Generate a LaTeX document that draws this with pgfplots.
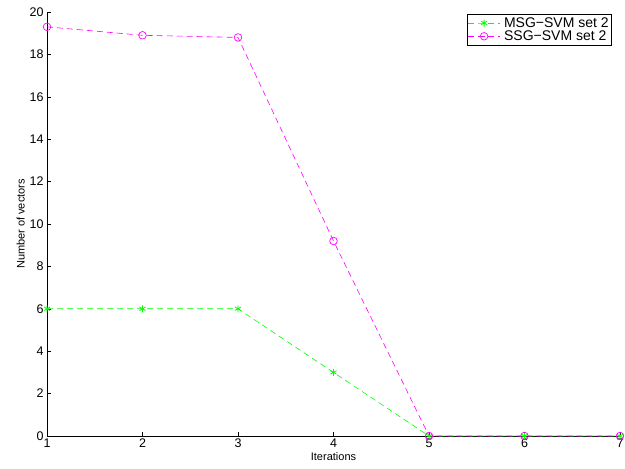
\documentclass[border=0pt]{standalone}
\usepackage{fontspec}
\setmainfont{Liberation Sans}
\usepackage{pgfplots}
\pgfplotsset{compat=1.18}
\usetikzlibrary{calc}

\definecolor{mgreen}{rgb}{0,1,0}
\definecolor{mmagenta}{rgb}{1,0,1}

\begin{document}
\begin{tikzpicture}
\begin{axis}[
    width=573pt, height=424pt,
    scale only axis,
    xmin=1, xmax=7, ymin=0, ymax=20,
    xtick={1,...,7},
    ytick={0,2,...,20},
    axis x line*=bottom,
    axis y line*=left,
    tick align=inside,
    major tick length=4pt,
    tick style={black, line width=0.5pt},
    axis line style={line width=0.7pt},
    /pgf/number format/assume math mode=true,
    ticklabel style={font=\fontsize{12.5}{14}\selectfont},
    xticklabel style={yshift=1pt},
    label style={font=\fontsize{11}{13}\selectfont},
    xlabel={Iterations},
    ylabel={Number of vectors},
    xlabel style={yshift=2pt},
    ylabel style={yshift=-2pt},
    legend style={at={(0.986,0.995)}, anchor=north east,
        font=\fontsize{14}{16}\selectfont, draw=black, line width=0.5pt,
        inner sep=1pt, row sep=-2pt,
        /tikz/every odd column/.append style={column sep=2pt}},
    legend cell align=left,
    legend image code/.code={%
        \draw[mark repeat=2,mark phase=2,#1]
        plot coordinates {(0cm,0cm) (0.55cm,0cm) (1.1cm,0cm)};},
    every axis plot/.append style={line width=0.6pt, dash pattern=on 6pt off 4pt},
]
\addplot[color=mgreen, mark=asterisk, mark size=3.5pt, mark options={solid, line width=0.8pt}]
    coordinates {(1,6) (2,6) (3,6) (4,3) (5,0) (6,0) (7,0)};
\addplot[color=mmagenta, mark=o, mark size=3.8pt, mark options={solid, line width=0.7pt}]
    coordinates {(1,19.3) (2,18.9) (3,18.8) (4,9.2) (5,0) (6,0) (7,0)};
\legend{MSG−SVM set 2, SSG−SVM set 2}
\coordinate (sw) at (rel axis cs:0,0);
\coordinate (ne) at (rel axis cs:1,1);
\end{axis}
\pgfresetboundingbox
\path[use as bounding box] ($(sw)+(-47pt,-32pt)$) rectangle ($(ne)+(5pt,12pt)$);
\end{tikzpicture}
\end{document}
